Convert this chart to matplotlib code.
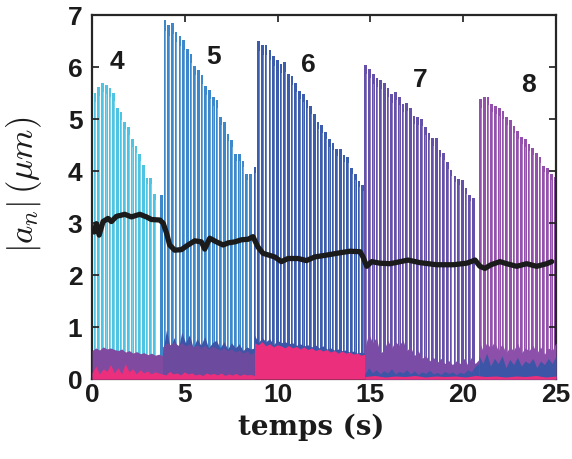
import numpy as np
import matplotlib
matplotlib.use("Agg")
import matplotlib.pyplot as plt
from matplotlib.colors import to_rgb

plt.rcParams["mathtext.fontset"] = "cm"

# spike peaks per segment (|a_n| in um), one spike every 0.2 s
period = 0.2
seg_labels = ["4", "5", "6", "7", "8"]
seg_starts = [0.16, 3.73, 8.78, 14.75, 20.94]
seg_edges = [0.0, 3.8, 8.75, 14.7, 20.85, 25.0]
seg_colors = ["#4fc3e2", "#3d88cb", "#3c5cac", "#6651a9", "#9351ac"]

peaks4 = [5.50, 5.61, 5.70, 5.65, 5.59, 5.51, 5.22, 5.14, 4.95, 4.84, 4.61, 4.48,
          4.33, 4.12, 3.86, 3.86, 3.56]
peaks5 = [3.54, 6.90, 6.81, 6.84, 6.68, 6.60, 6.53, 6.34, 6.26, 6.02, 5.94, 5.85,
          5.63, 5.56, 5.42, 5.37, 5.04, 4.95, 4.72, 4.60, 4.33, 4.33, 4.20, 3.94, 3.94]
peaks6 = [4.08, 6.51, 6.43, 6.43, 6.33, 6.21, 6.14, 6.07, 6.09, 5.86, 5.83, 5.69,
          5.55, 5.49, 5.37, 5.25, 5.09, 4.95, 4.88, 4.76, 4.61, 4.55, 4.42, 4.42,
          4.31, 4.28, 4.07, 3.94, 3.81, 3.73]
peaks7 = [6.05, 5.97, 5.86, 5.80, 5.75, 5.69, 5.59, 5.48, 5.53, 5.43, 5.30, 5.32,
          5.22, 5.06, 5.04, 5.01, 4.85, 4.74, 4.63, 4.63, 4.40, 4.34, 4.17, 4.03,
          3.90, 3.84, 3.83, 3.67, 3.54, 3.49]
peaks8 = [5.38, 5.42, 5.43, 5.29, 5.25, 5.21, 5.15, 5.04, 4.98, 4.87, 4.77, 4.66,
          4.61, 4.53, 4.45, 4.35, 4.28, 4.10, 4.07, 3.95, 3.89]
all_peaks = [peaks4, peaks5, peaks6, peaks7, peaks8]

# low-amplitude modes (read roughly, one value per 0.2 s)
upper4 = [0.55, 0.60, 0.56, 0.62, 0.58, 0.60, 0.57, 0.55, 0.58, 0.52, 0.55, 0.50,
          0.53, 0.49, 0.51, 0.47, 0.50, 0.46, 0.48, 0.45]
upper5 = [0.62, 0.70, 0.66, 0.72, 0.65, 0.70, 0.64, 0.68, 0.62, 0.66, 0.60, 0.65,
          0.58, 0.63, 0.60, 0.56, 0.60, 0.55, 0.58, 0.52, 0.56, 0.50, 0.55, 0.48, 0.52]
upper6 = [0.70, 0.66, 0.72, 0.64, 0.68, 0.62, 0.66, 0.64, 0.60, 0.65, 0.60, 0.63,
          0.58, 0.62, 0.57, 0.60, 0.55, 0.58, 0.54, 0.57, 0.52, 0.55, 0.50, 0.54,
          0.50, 0.52, 0.48, 0.50, 0.46, 0.48]
upper7 = [0.60, 0.88, 0.70, 0.80, 0.50, 0.55, 0.75, 0.60, 0.72, 0.65, 0.75, 0.55,
          0.62, 0.45, 0.55, 0.40, 0.45, 0.35, 0.42, 0.32, 0.40, 0.30, 0.36, 0.28,
          0.35, 0.30, 0.40, 0.28, 0.42, 0.30, 0.38]
upper8 = [0.75, 0.55, 0.70, 0.60, 0.72, 0.55, 0.68, 0.50, 0.62, 0.55, 0.70, 0.50,
          0.60, 0.55, 0.65, 0.50, 0.62, 0.48, 0.60, 0.55, 0.70]
upper_colors = ["#7f4a9f", "#6c4a9d", "#ec2f7d", "#7b4ca6", "#8d50aa"]

blue5 = [0.50, 0.95, 0.60, 0.80, 0.55, 0.90, 0.70, 0.85, 0.60, 0.78, 0.65, 0.82,
         0.60, 0.70, 0.75, 0.60, 0.72, 0.58, 0.70, 0.60, 0.68, 0.55, 0.62, 0.58, 0.60]
blue6 = [0.85, 0.70, 0.80, 0.72, 0.78, 0.66, 0.75, 0.70, 0.72, 0.68, 0.70, 0.65,
         0.68, 0.64, 0.66, 0.62, 0.66, 0.60, 0.64, 0.58, 0.60, 0.56, 0.58, 0.55,
         0.56, 0.52, 0.54, 0.50, 0.52, 0.50]
blue7 = [0.10, 0.22, 0.12, 0.18, 0.10, 0.16, 0.12, 0.20, 0.10, 0.15, 0.12, 0.18,
         0.10, 0.16, 0.09, 0.14, 0.11, 0.17, 0.10, 0.13, 0.09, 0.15, 0.11, 0.14,
         0.09, 0.13, 0.11, 0.18, 0.14, 0.25, 0.30]
blue8 = [0.45, 0.30, 0.50, 0.25, 0.40, 0.30, 0.45, 0.22, 0.38, 0.28, 0.42, 0.25,
         0.35, 0.30, 0.40, 0.22, 0.35, 0.28, 0.40, 0.30, 0.45]
blue_color = "#3d55a6"

pink45 = [0.12, 0.25, 0.10, 0.20, 0.15, 0.28, 0.12, 0.22, 0.10, 0.30, 0.14, 0.20,
          0.10, 0.18, 0.12, 0.16, 0.10, 0.14, 0.12, 0.10, 0.08, 0.15, 0.10, 0.12,
          0.08, 0.14, 0.10, 0.12, 0.08, 0.10, 0.07, 0.12, 0.09, 0.11, 0.08, 0.12,
          0.07, 0.10, 0.08, 0.11, 0.07, 0.10, 0.08, 0.09, 0.07]
pink78 = [0.05, 0.07, 0.04, 0.06, 0.05, 0.07, 0.04, 0.06, 0.05, 0.06, 0.04, 0.07,
          0.05, 0.06, 0.04, 0.06, 0.05, 0.07, 0.04, 0.06]
pink_color = "#ec2f7d"

# mean amplitude (black curve)
mean_t = [0.11, 0.23, 0.38, 0.59, 0.86, 1.04, 1.31, 1.76, 2.12, 2.57, 2.93, 3.20,
          3.65, 3.83, 4.01, 4.18, 4.45, 4.81, 5.17, 5.53, 5.89, 6.07, 6.34, 6.70,
          7.06, 7.33, 7.69, 8.05, 8.41, 8.67, 8.94, 9.21, 9.84, 10.20, 10.56, 11.10,
          11.55, 12.00, 12.54, 13.36, 13.90, 14.44, 14.60, 14.80, 15.07, 15.50,
          16.06, 17.03, 17.67, 18.57, 19.47, 20.19, 20.64, 20.90, 21.17, 21.50,
          21.98, 22.34, 22.88, 23.42, 23.96, 24.50, 24.77]
mean_a = [2.83, 2.99, 2.77, 3.03, 3.09, 3.03, 3.13, 3.17, 3.12, 3.17, 3.12, 3.07,
          3.06, 3.00, 2.81, 2.58, 2.48, 2.49, 2.58, 2.66, 2.64, 2.50, 2.71, 2.64,
          2.58, 2.62, 2.64, 2.68, 2.69, 2.74, 2.54, 2.42, 2.35, 2.26, 2.32, 2.32,
          2.28, 2.35, 2.38, 2.43, 2.46, 2.45, 2.35, 2.17, 2.26, 2.23, 2.22, 2.29,
          2.24, 2.20, 2.20, 2.23, 2.29, 2.17, 2.13, 2.20, 2.26, 2.22, 2.17, 2.22,
          2.17, 2.22, 2.26]

label_x = [1.35, 6.57, 11.64, 17.67, 23.5]
label_y = [6.1, 6.19, 6.04, 5.75, 5.65]

fig = plt.figure(figsize=(5.72, 4.59), dpi=100)
ax = fig.add_axes([0.161, 0.174, 0.811, 0.793])

# spikes, with a lighter streak inside each one
for start, pk, c in zip(seg_starts, all_peaks, seg_colors):
    t = start + period * np.arange(len(pk))
    ax.bar(t, pk, width=0.145, color=c, linewidth=0, zorder=1)
    light = tuple(0.55 * np.array(to_rgb(c)) + 0.45)
    ax.bar(t + 0.035, np.array(pk) * 0.97, width=0.045, color=light,
           linewidth=0, zorder=1.5, alpha=0.6)


def band(seg, vals, color, z, t0=None, t1=None):
    a = seg_edges[seg] if t0 is None else t0
    b = seg_edges[seg + 1] if t1 is None else t1
    tt = np.linspace(a, b, len(vals))
    ax.fill_between(tt, 0, vals, color=color, linewidth=0, zorder=z)


uppers = [upper4, upper5, upper6, upper7, upper8]
band(1, blue5, blue_color, 2)
band(2, blue6, blue_color, 2)
for i, u in enumerate(uppers):
    band(i, u, upper_colors[i], 3)
band(3, blue7, blue_color, 4)
band(4, blue8, blue_color, 4)
band(0, pink45, pink_color, 5, t0=seg_edges[0], t1=seg_edges[2])
band(3, pink78, pink_color, 5, t0=seg_edges[3], t1=seg_edges[5])

ax.plot(mean_t, mean_a, color="#1b1b1b", lw=3.8, zorder=6, solid_capstyle="round")

for lab, x, y in zip(seg_labels, label_x, label_y):
    ax.text(x, y, lab, fontsize=19, fontweight="bold", family="Liberation Sans",
            ha="center", va="center", color="#1b1b1b", zorder=7)

ax.set_xlim(0, 25)
ax.set_ylim(0, 7)
ax.set_xticks([0, 5, 10, 15, 20, 25])
ax.set_yticks(range(8))
ax.tick_params(direction="in", length=5, width=1.2, top=True, right=True,
               labelsize=19, colors="#1b1b1b")
ax.tick_params(axis="y", pad=7)
ax.tick_params(axis="x", pad=3)
for lb in ax.get_xticklabels() + ax.get_yticklabels():
    lb.set_fontweight("bold")
    lb.set_family("Liberation Sans")
for s in ax.spines.values():
    s.set_linewidth(1.6)
    s.set_color("#262626")

ax.set_xlabel("temps (s)", fontsize=20, fontweight="bold", family="DejaVu Serif",
              color="#1b1b1b")
ax.xaxis.set_label_coords(0.473, -0.095)
ax.yaxis.label.set_math_fontfamily("cm")
ax.set_ylabel(r"$|a_n|\,(\mu m)$", fontsize=25, color="#1b1b1b")
ax.yaxis.set_label_coords(-0.104, 0.535)

fig.savefig("out.png", dpi=100)
